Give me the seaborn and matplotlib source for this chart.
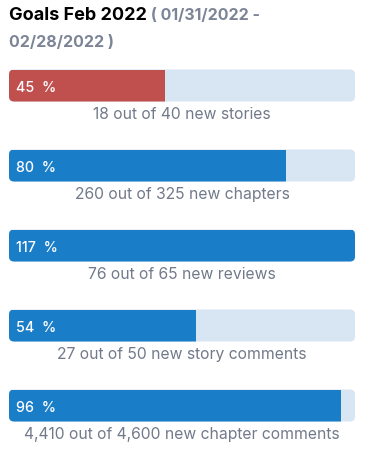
import pandas as pd
import matplotlib
matplotlib.use('Agg')
import matplotlib.pyplot as plt
from matplotlib.patches import FancyBboxPatch
import seaborn as sns

# Goal data (Feb 2022)
goal_names = ['new stories', 'new chapters', 'new reviews', 'new story comments', 'new chapter comments']
done = [18, 260, 76, 27, 4410]
target = [40, 325, 65, 50, 4600]
bar_colors = ['#C0504E', '#1A7DC8', '#1A7DC8', '#1A7DC8', '#1A7DC8']

df = pd.DataFrame({'goal': goal_names, 'done': done, 'target': target})
df['pct'] = (df['done'] / df['target'] * 100).round().astype(int)
df['fill'] = df['pct'].clip(upper=100)
df['full'] = 100

sns.set_theme(style='white')
plt.rcParams['font.family'] = ['Inter', 'DejaVu Sans']

fig = plt.figure(figsize=(3.65, 4.52), dpi=100)
ax = fig.add_axes([9 / 365, 5.5 / 452, 346 / 365, 400 / 452])

# background track, then progress fill
sns.barplot(data=df, x='full', y='goal', color='#D8E5F3', width=0.4, saturation=1,
            linewidth=0, ax=ax)
n_bg = len(ax.patches)
sns.barplot(data=df, x='fill', y='goal', hue='goal', palette=bar_colors, width=0.4,
            saturation=1, linewidth=0, legend=False, ax=ax)
bg_bars = list(ax.patches[:n_bg])
fg_bars = list(ax.patches[n_bg:])

# rounded corners: swap the track for a rounded box and clip the fill to it
rx = 5 * 100 / 346
ry = 5 / 80
for bg, fg in zip(bg_bars, fg_bars):
    box = FancyBboxPatch((bg.get_x(), bg.get_y()), bg.get_width(), bg.get_height(),
                         boxstyle=f'round,pad=0,rounding_size={rx}', mutation_aspect=ry / rx,
                         fc=bg.get_facecolor(), ec='none', lw=0, zorder=1)
    ax.add_patch(box)
    bg.set_visible(False)
    fg.set_zorder(2)
    fg.set_clip_path(box)

for i, row in df.iterrows():
    ax.text(2.0, i + 0.07, f"{row['pct']}  %", color='white', fontsize=10.3,
            fontweight='medium', va='baseline', ha='left', zorder=3)
    ax.text(50, i + 0.41, f"{row['done']:,} out of {row['target']:,} {row['goal']}",
            color='#717A8A', fontsize=11.3, va='baseline', ha='center')

ax.set_xlim(0, 100)
ax.set_ylim(4.5, -0.5)
ax.set_axis_off()

# title in two colours
t = fig.text(9 / 365, 1 - 20 / 452, 'Goals Feb 2022', fontsize=13, fontweight='bold',
             color='black', va='baseline')
fig.canvas.draw()
bb = t.get_window_extent()
fig.text(bb.x1 / fig.bbox.width, 1 - 20 / 452, ' ( 01/31/2022 -', fontsize=11.5,
         fontweight='bold', color='#7B8596', va='baseline')
fig.text(9 / 365, 1 - 47 / 452, '02/28/2022 )', fontsize=11.5, fontweight='bold',
         color='#7B8596', va='baseline')

fig.savefig('out.png', dpi=100)
